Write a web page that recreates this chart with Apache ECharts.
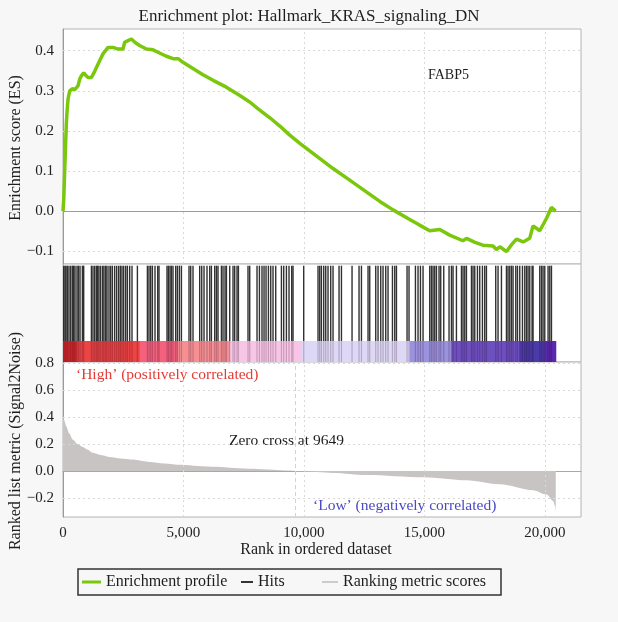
<!DOCTYPE html>
<html>
<head>
<meta charset="utf-8">
<script src="https://cdn.jsdelivr.net/npm/echarts@6/dist/echarts.min.js"></script>
<style>
  html, body { margin: 0; padding: 0; background: #f7f7f7; }
  #chart { width: 618px; height: 622px; }
</style>
</head>
<body>
<div id="chart"></div>
<script>
// Running enrichment score along the ranked gene list
const esRank = [0, 30, 70, 110, 140, 170, 210, 280, 400, 490, 620, 700, 760, 860, 950, 1040, 1180, 1320, 1520, 1660, 1870, 2080, 2280, 2490, 2560, 2700, 2840, 2980, 3180, 3460, 3740, 3940, 4290, 4570, 4780, 4980, 5410, 5810, 6230, 6780, 7340, 7750, 8100, 8600, 9000, 9400, 9830, 10500, 11210, 11900, 12590, 13150, 13700, 14390, 14800, 15220, 15640, 16050, 16600, 16750, 17100, 17430, 17850, 17990, 18130, 18410, 18600, 18820, 19100, 19370, 19510, 19790, 20070, 20270, 20450];
const esScore = [0, 0.027, 0.10, 0.17, 0.22, 0.25, 0.28, 0.30, 0.305, 0.303, 0.312, 0.33, 0.337, 0.345, 0.338, 0.333, 0.333, 0.349, 0.375, 0.392, 0.408, 0.408, 0.404, 0.404, 0.421, 0.425, 0.429, 0.421, 0.413, 0.404, 0.402, 0.396, 0.386, 0.380, 0.380, 0.371, 0.355, 0.34, 0.326, 0.309, 0.288, 0.272, 0.255, 0.232, 0.212, 0.19, 0.169, 0.138, 0.106, 0.077, 0.048, 0.024, 0.003, -0.021, -0.035, -0.049, -0.046, -0.06, -0.074, -0.068, -0.078, -0.085, -0.087, -0.096, -0.089, -0.101, -0.085, -0.07, -0.077, -0.068, -0.037, -0.049, -0.018, 0.009, 0.0];

// Positions of gene-set members in the ranked list
const hitRanks = [29, 83, 125, 183, 249, 320, 390, 444, 498, 581, 639, 706, 805, 859,
  1179, 1245, 1316, 1386, 1440, 1494, 1565, 1648, 1702, 1772, 1826, 1909, 1980, 2051, 2146, 2229, 2312, 2383, 2449, 2520, 2603, 2673, 2769, 2864, 3088,
  3503, 3570, 3640, 3711, 3819, 3931, 3985,
  4317, 4375, 4442, 4500, 4566, 4678, 4749, 4832, 4915,
  5230, 5301, 5396, 5674, 5758, 5853, 5977, 6090, 6160, 6297, 6368, 6434, 6575, 6642, 6725, 6783, 6920, 7057, 7127, 7223, 7281,
  7679, 7750, 8053, 8153, 8260, 8344, 8427, 8526, 8622, 8717, 8829, 9066, 9161, 9273, 9381, 9493, 9547,
  9991, 10585, 10656, 10726, 10822, 10905, 11000, 11112, 11208, 11457, 11557, 11997, 12287, 12387, 12661, 12731, 12980, 13076, 13188, 13283, 13395, 13491, 13674, 13769, 13840,
  14280, 14362, 14628, 14736, 14836, 14944, 15222, 15292, 15359, 15429, 15500, 15608, 15678, 15803, 16023, 16123, 16189, 16330, 16538, 16604, 16675, 16745, 16953, 17019, 17090, 17202, 17297, 17409, 17504, 17575, 17961, 18057, 18198, 18406, 18472, 18543, 18613, 18680, 18792, 18863, 18958, 19070, 19166, 19237, 19303, 19373, 19469, 19510, 19788, 19859, 19925, 19996, 20133, 20204, 20274];

// Ranked list metric (Signal2Noise)
const metricRank = [0, 40, 140, 250, 415, 600, 830, 1000, 1245, 1600, 1940, 2400, 2900, 3600, 4200, 4900, 5600, 6370, 7100, 7900, 8700, 9400, 9649, 9840, 11210, 12590, 14970, 16750, 18130, 19510, 20070, 20350, 20420, 20453];
const metricValue = [0.41, 0.38, 0.33, 0.28, 0.232, 0.2, 0.178, 0.16, 0.135, 0.117, 0.104, 0.093, 0.084, 0.066, 0.055, 0.045, 0.037, 0.03, 0.022, 0.015, 0.008, 0.002, 0, -0.003, -0.015, -0.03, -0.047, -0.07, -0.1, -0.144, -0.176, -0.225, -0.26, -0.3];

// Rank boundaries of the heat-strip bands
const bandEdges = [0, 573, 3184, 4761, 6920, 9909, 14392, 16136, 18959, 19997, 20453];

const zeroCross = 9649;
const xTicks = [0, 5000, 10000, 15000, 20000];
const esTicks = [-0.1, 0.0, 0.1, 0.2, 0.3, 0.4];
const metricTicks = [-0.2, 0.0, 0.2, 0.4, 0.6, 0.8];

// ---- styling ----
const FONT = "'Liberation Serif', 'DejaVu Serif', serif";
const bandColors = ['#d42a2a', '#eb4443', '#f3617c', '#f58f92', '#f7c6e6', '#ddd8f5', '#9a92dc', '#6d50c0', '#4a3ca8', '#5a28b0'];
const GREEN = '#7ac70c';
const GRID_LINE = { color: '#d9d9d9', type: [2, 3], width: 1 };
const HIT_TOP = 0.983, BAR_TOP = 0.214;
const X_MAX = 21500;

const fmtY = v => v.toFixed(1).replace('-', '\u2212');
const fmtX = v => v.toLocaleString('en-US');

function xAxis(gridIndex, showLabels) {
  return {
    type: 'value', gridIndex, min: 0, max: X_MAX, interval: 5000,
    axisLine: { show: showLabels, lineStyle: { color: '#a8a8a8' } },
    axisTick: { show: false }, splitLine: { show: false },
    axisLabel: { show: showLabels, formatter: fmtX, fontFamily: FONT, fontSize: 15, color: '#222', margin: 9 }
  };
}
function yAxis(gridIndex, min, max, ticks) {
  return {
    type: 'value', gridIndex, min, max,
    axisLine: { show: true, lineStyle: { color: '#9a9a9a' } },
    axisTick: { show: false }, splitLine: { show: false },
    axisLabel: { show: !!ticks, customValues: ticks || [], formatter: fmtY, fontFamily: FONT, fontSize: 15, color: '#222', margin: 9 }
  };
}
// dotted reference lines at the tick values
function refLines(xi, yi, yVals) {
  const data = yVals.filter(v => v !== 0).map(v => ({ yAxis: v }))
    .concat(xTicks.filter(v => v > 0).map(v => ({ xAxis: v })));
  return {
    type: 'line', xAxisIndex: xi, yAxisIndex: yi, data: [], silent: true, z: 1,
    markLine: { silent: true, symbol: 'none', animation: false, label: { show: false }, lineStyle: GRID_LINE, data }
  };
}
const gridBox = { show: true, borderColor: '#b4b4b4', borderWidth: 1, backgroundColor: '#ffffff', left: 63, right: 37 };

function txt(text, x, y, opts) {
  opts = opts || {};
  return {
    type: 'text', x, y, rotation: opts.rotation || 0, silent: true,
    style: {
      text, fill: opts.color || '#1e1e1e', font: (opts.size || 15.5) + 'px ' + FONT,
      align: opts.align || 'left', verticalAlign: 'middle',
      textAlign: opts.align || 'left', textVerticalAlign: 'middle'
    }
  };
}

const legendText = { fontFamily: FONT, fontSize: 16, color: '#1e1e1e' };

const option = {
  backgroundColor: '#f7f7f7',
  animation: false,
  title: {
    text: 'Enrichment plot: Hallmark_KRAS_signaling_DN', left: 'center', top: 3,
    textStyle: { fontFamily: FONT, fontSize: 17, fontWeight: 'normal', color: '#1e1e1e' }
  },
  grid: [
    Object.assign({ top: 29, height: 235 }, gridBox),
    Object.assign({ top: 264, height: 98 }, gridBox),
    Object.assign({ top: 362, height: 155 }, gridBox)
  ],
  xAxis: [xAxis(0, false), xAxis(1, false), xAxis(2, true)],
  yAxis: [
    yAxis(0, -0.132, 0.454, esTicks),
    Object.assign(yAxis(1, 0, 1, null), { axisLine: { show: false } }),
    yAxis(2, -0.343, 0.81, metricTicks)
  ],
  legend: [
    { data: ['Enrichment profile'], left: 82, top: 574, icon: 'rect', itemWidth: 19, itemHeight: 3, padding: 0, selectedMode: false, textStyle: legendText },
    { data: ['Hits'], left: 241, top: 574, icon: 'rect', itemWidth: 12, itemHeight: 2, padding: 0, selectedMode: false, textStyle: legendText },
    { data: ['Ranking metric scores'], left: 322, top: 574, icon: 'rect', itemWidth: 16, itemHeight: 2, padding: 0, selectedMode: false, textStyle: legendText }
  ],
  graphic: [
    txt('Enrichment score (ES)', 16, 148, { rotation: Math.PI / 2, align: 'center', size: 16 }),
    txt('Ranked list metric (Signal2Noise)', 16, 441, { rotation: Math.PI / 2, align: 'center', size: 16 }),
    txt('Rank in ordered dataset', 316, 550, { align: 'center', size: 16 }),
    txt('FABP5', 428, 75, { size: 14 }),
    txt('\u2018High\u2019 (positively correlated)', 76, 375, { color: '#e53b36' }),
    txt('Zero cross at 9649', 229, 441),
    txt('\u2018Low\u2019 (negatively correlated)', 313, 506, { color: '#4a4ac4' }),
    { type: 'rect', silent: true, shape: { x: 78, y: 569, width: 423, height: 26 },
      style: { fill: 'none', stroke: '#333', lineWidth: 1.5 } }
  ],
  series: [
    refLines(0, 0, esTicks),
    refLines(2, 2, metricTicks),
    {
      name: 'Enrichment profile', type: 'line', xAxisIndex: 0, yAxisIndex: 0, z: 5,
      data: esRank.map((r, i) => [r, esScore[i]]),
      showSymbol: false, lineStyle: { color: GREEN, width: 3.5 }, itemStyle: { color: GREEN },
      markLine: { silent: true, symbol: 'none', label: { show: false }, z: 3,
        lineStyle: { color: '#9c9c9c', type: 'solid', width: 1 }, data: [{ yAxis: 0 }] }
    },
    {
      name: 'band', type: 'custom', xAxisIndex: 1, yAxisIndex: 1, z: 2, silent: true,
      data: bandEdges.slice(0, -1).map((s, i) => [s, bandEdges[i + 1], i]),
      renderItem: (params, api) => {
        const a = api.coord([api.value(0), BAR_TOP]);
        const b = api.coord([api.value(1), 0]);
        return { type: 'rect', shape: { x: a[0], y: a[1], width: b[0] - a[0] + 0.5, height: b[1] - a[1] },
          style: { fill: bandColors[api.value(2)] } };
      }
    },
    {
      name: 'Hits', type: 'custom', xAxisIndex: 1, yAxisIndex: 1, z: 4, silent: true,
      itemStyle: { color: '#333333' },
      data: hitRanks.map(r => [r, 0]),
      renderItem: (params, api) => {
        const x = api.value(0);
        const top = api.coord([x, HIT_TOP]);
        const mid = api.coord([x, BAR_TOP]);
        const bot = api.coord([x, 0]);
        return { type: 'group', children: [
          { type: 'line', shape: { x1: top[0], y1: top[1], x2: mid[0], y2: mid[1] },
            style: { stroke: 'rgba(20,20,20,0.88)', lineWidth: 1.4 } },
          { type: 'line', shape: { x1: mid[0], y1: mid[1], x2: bot[0], y2: bot[1] },
            style: { stroke: 'rgba(40,0,30,0.22)', lineWidth: 1.2 } }
        ] };
      }
    },
    {
      name: 'Ranking metric scores', type: 'line', xAxisIndex: 2, yAxisIndex: 2, z: 3,
      data: metricRank.map((r, i) => [r, metricValue[i]]),
      showSymbol: false, smooth: 0.3, smoothMonotone: 'x',
      lineStyle: { width: 0 }, itemStyle: { color: '#cccccc' },
      areaStyle: { color: '#c9c4c4', opacity: 1 },
      markLine: { silent: true, symbol: 'none', label: { show: false },
        lineStyle: { color: '#d2d2d2', type: [4, 3], width: 1 }, data: [{ xAxis: zeroCross }] }
    }
  ]
};

const chart = echarts.init(document.getElementById('chart'), null, { renderer: 'canvas' });
chart.setOption(option);
</script>
</body>
</html>
